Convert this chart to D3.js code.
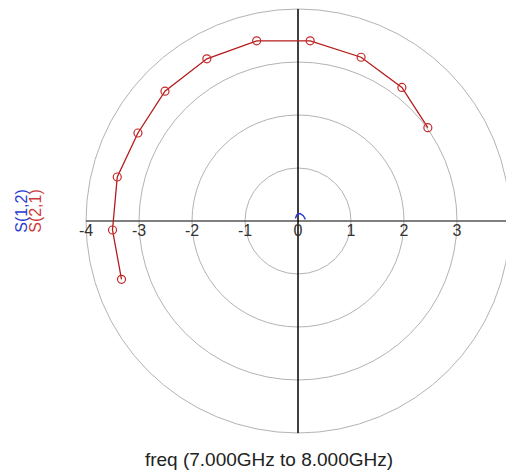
<!DOCTYPE html>
<html>
<head>
<meta charset="utf-8">
<script src="https://cdn.jsdelivr.net/npm/d3@7"></script>
<style>
  html, body { margin: 0; padding: 0; background: #fff; }
  svg { display: block; }
  text { font-family: "Liberation Sans", Arial, sans-serif; }
</style>
</head>
<body>
<svg id="chart" width="506" height="474"></svg>
<script>
// ---- data ----
const gridRadii = [1, 2, 3, 4];
const tickValues = [-4, -3, -2, -1, 0, 1, 2, 3];
const seriesNames = ["S(1,2)", "S(2,1)"];
// S(2,1): real / imaginary parts (7 GHz -> 8 GHz)
const s21Re = [-3.33, -3.50, -3.41, -3.02, -2.51, -1.72, -0.78, 0.23, 1.19, 1.96, 2.45];
const s21Im = [-1.10, -0.17, 0.83, 1.66, 2.45, 3.06, 3.40, 3.40, 3.09, 2.52, 1.76];
// S(1,2): very small, near origin
const s12Re = [0.14, 0.10, 0.04, -0.02, -0.05];
const s12Im = [0.03, 0.10, 0.14, 0.12, 0.05];
const axisTitle = "freq (7.000GHz to 8.000GHz)";

// ---- layout ----
const svg = d3.select("#chart");
const cx = 298, cy = 221, R = 212, maxR = 4;
const x = d3.scaleLinear().domain([-maxR, maxR]).range([cx - R, cx + R]);
const y = d3.scaleLinear().domain([-maxR, maxR]).range([cy + R, cy - R]);
const r = d3.scaleLinear().domain([0, maxR]).range([0, R]);

// grid circles
svg.append("g").selectAll("circle").data(gridRadii).join("circle")
  .attr("cx", x(0)).attr("cy", y(0)).attr("r", d => r(d))
  .attr("fill", "none").attr("stroke", "#b3b3b3").attr("stroke-width", 1);

// axes
svg.append("line").attr("x1", x(-maxR)).attr("x2", 506).attr("y1", y(0)).attr("y2", y(0))
  .attr("stroke", "#555").attr("stroke-width", 1.5);
svg.append("line").attr("x1", x(0)).attr("x2", x(0)).attr("y1", y(maxR)).attr("y2", y(-maxR))
  .attr("stroke", "#000").attr("stroke-width", 1.5);

// tick labels
svg.append("g").selectAll("text").data(tickValues).join("text")
  .attr("x", d => x(d)).attr("y", y(0) + 15)
  .attr("text-anchor", "middle").attr("font-size", 16).attr("fill", "#333")
  .text(d => d);

// series
const line = d3.line().x(d => x(d[0])).y(d => y(d[1]));
const s21 = s21Re.map((v, i) => [v, s21Im[i]]);
const s12 = s12Re.map((v, i) => [v, s12Im[i]]);

svg.append("path").datum(s12).attr("d", line)
  .attr("fill", "none").attr("stroke", "#2a3ad0").attr("stroke-width", 1.4);

svg.append("path").datum(s21).attr("d", line)
  .attr("fill", "none").attr("stroke", "#b51c1c").attr("stroke-width", 1.3);
svg.append("g").selectAll("circle").data(s21).join("circle")
  .attr("cx", d => x(d[0])).attr("cy", d => y(d[1])).attr("r", 4)
  .attr("fill", "none").attr("stroke", "#c62828").attr("stroke-width", 1.2);

// legend (rotated)
const legColors = ["#2a3ad0", "#d03a3a"];
svg.append("g").selectAll("text").data(seriesNames).join("text")
  .attr("transform", (d, i) => `translate(${27 + i * 14},${211}) rotate(-90)`)
  .attr("text-anchor", "middle").attr("font-size", 16)
  .attr("fill", (d, i) => legColors[i])
  .text(d => d);

// axis title
svg.append("text").attr("x", 269).attr("y", 466)
  .attr("text-anchor", "middle").attr("font-size", 19).attr("fill", "#222")
  .text(axisTitle);
</script>
</body>
</html>
